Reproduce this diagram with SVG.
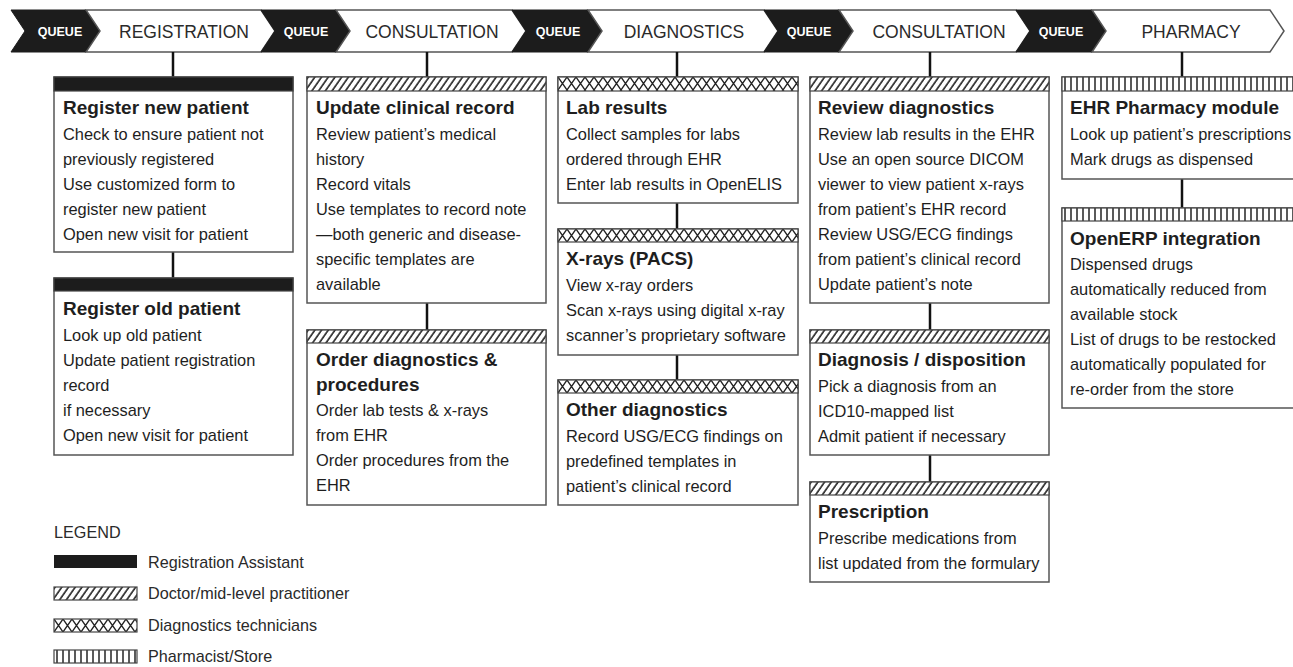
<svg xmlns="http://www.w3.org/2000/svg" width="1293" height="667" viewBox="0 0 1293 667">
<style>
.q{fill:#1c1c1c;stroke:#1c1c1c;stroke-width:1}
.st{fill:#fff;stroke:#555;stroke-width:1.5}
.qt{font-family:"Liberation Sans",Arial,sans-serif;font-weight:bold;font-size:12.5px;fill:#fff;text-anchor:middle}
.stt{font-family:"Liberation Sans",Arial,sans-serif;font-size:17.5px;fill:#2a2a2a;text-anchor:middle}
.box{fill:#fff;stroke:#555;stroke-width:1.5}
.hd{stroke:#444;stroke-width:1.2}
.t{font-family:"Liberation Sans",Arial,sans-serif;font-weight:bold;font-size:19px;fill:#1e1e1e}
.b{font-family:"Liberation Sans",Arial,sans-serif;font-size:16.4px;fill:#1e1e1e}
.lg{font-family:"Liberation Sans",Arial,sans-serif;font-size:16.2px;fill:#2a2a2a}
.c{stroke:#111;stroke-width:2.5;fill:none}
</style>
<defs>
<pattern id="hatch" patternUnits="userSpaceOnUse" width="5.5" height="20" patternTransform="rotate(35)">
<rect width="5.5" height="20" fill="#fff"/><line x1="1" y1="0" x2="1" y2="20" stroke="#222" stroke-width="1.6"/>
</pattern>
<pattern id="cross" patternUnits="userSpaceOnUse" width="9" height="13">
<rect width="9" height="13" fill="#fff"/><path d="M0,0 L9,13 M9,0 L0,13" stroke="#222" stroke-width="1.3" fill="none"/>
</pattern>
<pattern id="vert" patternUnits="userSpaceOnUse" width="6" height="13">
<rect width="6" height="13" fill="#fff"/><line x1="3" y1="0" x2="3" y2="13" stroke="#222" stroke-width="1.5"/>
</pattern>
</defs>
<rect width="1293" height="667" fill="#fff"/>

<g id="banner">
<polygon class="q" points="11,10 86,10 100,31 86,52 11,52 25,31"/>
<text class="qt" x="60" y="36">QUEUE</text>
<polygon class="st" points="86,10 261,10 275,31 261,52 86,52 100,31"/>
<text class="stt" x="184" y="37.5">REGISTRATION</text>
<polygon class="q" points="261,10 336,10 350,31 336,52 261,52 275,31"/>
<text class="qt" x="306" y="36">QUEUE</text>
<polygon class="st" points="336,10 512,10 526,31 512,52 336,52 350,31"/>
<text class="stt" x="432" y="37.5">CONSULTATION</text>
<polygon class="q" points="512,10 588,10 602,31 588,52 512,52 526,31"/>
<text class="qt" x="558" y="36">QUEUE</text>
<polygon class="st" points="588,10 764,10 778,31 764,52 588,52 602,31"/>
<text class="stt" x="684" y="37.5">DIAGNOSTICS</text>
<polygon class="q" points="764,10 839,10 853,31 839,52 764,52 778,31"/>
<text class="qt" x="809" y="36">QUEUE</text>
<polygon class="st" points="839,10 1016,10 1030,31 1016,52 839,52 853,31"/>
<text class="stt" x="939" y="37.5">CONSULTATION</text>
<polygon class="q" points="1016,10 1092,10 1106,31 1092,52 1016,52 1030,31"/>
<text class="qt" x="1061" y="36">QUEUE</text>
<polygon class="st" points="1092,10 1270,10 1284,31 1270,52 1092,52 1106,31"/>
<text class="stt" x="1191" y="37.5">PHARMACY</text>
</g>

<g id="connectors">
<line class="c" x1="173" y1="52" x2="173" y2="77"/>
<line class="c" x1="173" y1="252" x2="173" y2="278"/>
<line class="c" x1="427" y1="52" x2="427" y2="77"/>
<line class="c" x1="427" y1="303" x2="427" y2="330"/>
<line class="c" x1="677" y1="52" x2="677" y2="77"/>
<line class="c" x1="677" y1="203" x2="677" y2="229"/>
<line class="c" x1="677" y1="355" x2="677" y2="380"/>
<line class="c" x1="930" y1="52" x2="930" y2="77"/>
<line class="c" x1="930" y1="303" x2="930" y2="330"/>
<line class="c" x1="930" y1="455" x2="930" y2="482"/>
<line class="c" x1="1182" y1="52" x2="1182" y2="77"/>
<line class="c" x1="1182" y1="179" x2="1182" y2="208"/>
</g>

<g id="register-new" transform="translate(54,77)">
<rect class="box" width="239" height="175"/>
<rect class="hd" width="239" height="14" fill="#1c1c1c"/>
<text class="t" x="9" y="37">Register new patient</text>
<text class="b" x="9" y="63">Check to ensure patient not</text>
<text class="b" x="9" y="88">previously registered</text>
<text class="b" x="9" y="113">Use customized form to</text>
<text class="b" x="9" y="138">register new patient</text>
<text class="b" x="9" y="163">Open new visit for patient</text>
</g>

<g id="register-old" transform="translate(54,278)">
<rect class="box" width="239" height="177"/>
<rect class="hd" width="239" height="13" fill="#1c1c1c"/>
<text class="t" x="9" y="37">Register old patient</text>
<text class="b" x="9" y="63">Look up old patient</text>
<text class="b" x="9" y="88">Update patient registration</text>
<text class="b" x="9" y="113">record</text>
<text class="b" x="9" y="138">if necessary</text>
<text class="b" x="9" y="163">Open new visit for patient</text>
</g>

<g id="update-clinical" transform="translate(307,77)">
<rect class="box" width="239" height="226"/>
<rect class="hd" width="239" height="14" fill="url(#hatch)"/>
<text class="t" x="9" y="37">Update clinical record</text>
<text class="b" x="9" y="63">Review patient’s medical</text>
<text class="b" x="9" y="88">history</text>
<text class="b" x="9" y="113">Record vitals</text>
<text class="b" x="9" y="138">Use templates to record note</text>
<text class="b" x="9" y="163">—both generic and disease-</text>
<text class="b" x="9" y="188">specific templates are</text>
<text class="b" x="9" y="213">available</text>
</g>

<g id="order-diagnostics" transform="translate(307,330)">
<rect class="box" width="239" height="175"/>
<rect class="hd" width="239" height="13" fill="url(#hatch)"/>
<text class="t" x="9" y="36">Order diagnostics &amp;</text>
<text class="t" x="9" y="61">procedures</text>
<text class="b" x="9" y="86">Order lab tests &amp; x-rays</text>
<text class="b" x="9" y="111">from EHR</text>
<text class="b" x="9" y="136">Order procedures from the</text>
<text class="b" x="9" y="161">EHR</text>
</g>

<g id="lab-results" transform="translate(558,77)">
<rect class="box" width="240" height="126"/>
<rect class="hd" width="240" height="14" fill="url(#cross)"/>
<text class="t" x="8" y="37">Lab results</text>
<text class="b" x="8" y="63">Collect samples for labs</text>
<text class="b" x="8" y="88">ordered through EHR</text>
<text class="b" x="8" y="113">Enter lab results in OpenELIS</text>
</g>

<g id="xrays" transform="translate(558,229)">
<rect class="box" width="240" height="126"/>
<rect class="hd" width="240" height="13" fill="url(#cross)"/>
<text class="t" x="8" y="36">X-rays (PACS)</text>
<text class="b" x="8" y="62">View x-ray orders</text>
<text class="b" x="8" y="87">Scan x-rays using digital x-ray</text>
<text class="b" x="8" y="112">scanner’s proprietary software</text>
</g>

<g id="other-diagnostics" transform="translate(558,380)">
<rect class="box" width="240" height="125"/>
<rect class="hd" width="240" height="13" fill="url(#cross)"/>
<text class="t" x="8" y="36">Other diagnostics</text>
<text class="b" x="8" y="62">Record USG/ECG findings on</text>
<text class="b" x="8" y="87">predefined templates in</text>
<text class="b" x="8" y="112">patient’s clinical record</text>
</g>

<g id="review-diagnostics" transform="translate(810,77)">
<rect class="box" width="239" height="226"/>
<rect class="hd" width="239" height="14" fill="url(#hatch)"/>
<text class="t" x="8" y="37">Review diagnostics</text>
<text class="b" x="8" y="63">Review lab results in the EHR</text>
<text class="b" x="8" y="88">Use an open source DICOM</text>
<text class="b" x="8" y="113">viewer to view patient x-rays</text>
<text class="b" x="8" y="138">from patient’s EHR record</text>
<text class="b" x="8" y="163">Review USG/ECG findings</text>
<text class="b" x="8" y="188">from patient’s clinical record</text>
<text class="b" x="8" y="213">Update patient’s note</text>
</g>

<g id="diagnosis" transform="translate(810,330)">
<rect class="box" width="239" height="125"/>
<rect class="hd" width="239" height="13" fill="url(#hatch)"/>
<text class="t" x="8" y="36">Diagnosis / disposition</text>
<text class="b" x="8" y="62">Pick a diagnosis from an</text>
<text class="b" x="8" y="87">ICD10-mapped list</text>
<text class="b" x="8" y="112">Admit patient if necessary</text>
</g>

<g id="prescription" transform="translate(810,482)">
<rect class="box" width="239" height="100"/>
<rect class="hd" width="239" height="13" fill="url(#hatch)"/>
<text class="t" x="8" y="36">Prescription</text>
<text class="b" x="8" y="62">Prescribe medications from</text>
<text class="b" x="8" y="87">list updated from the formulary</text>
</g>

<g id="ehr-pharmacy" transform="translate(1062,77)">
<rect class="box" width="240" height="102"/>
<rect class="hd" width="240" height="14" fill="url(#vert)"/>
<text class="t" x="8" y="37">EHR Pharmacy module</text>
<text class="b" x="8" y="63">Look up patient’s prescriptions</text>
<text class="b" x="8" y="88">Mark drugs as dispensed</text>
</g>

<g id="openerp" transform="translate(1062,208)">
<rect class="box" width="240" height="200"/>
<rect class="hd" width="240" height="13" fill="url(#vert)"/>
<text class="t" x="8" y="37">OpenERP integration</text>
<text class="b" x="8" y="62">Dispensed drugs</text>
<text class="b" x="8" y="87">automatically reduced from</text>
<text class="b" x="8" y="112">available stock</text>
<text class="b" x="8" y="137">List of drugs to be restocked</text>
<text class="b" x="8" y="162">automatically populated for</text>
<text class="b" x="8" y="187">re-order from the store</text>
</g>

<g id="legend">
<text class="lg" x="54" y="538">LEGEND</text>
<rect x="54" y="555" width="83" height="13" fill="#1c1c1c"/>
<text class="lg" x="148" y="568">Registration Assistant</text>
<g transform="translate(54,587)"><rect class="hd" width="83" height="13" fill="url(#hatch)"/></g>
<text class="lg" x="148" y="599">Doctor/mid-level practitioner</text>
<g transform="translate(54,619)"><rect class="hd" width="83" height="13" fill="url(#cross)"/></g>
<text class="lg" x="148" y="631">Diagnostics technicians</text>
<g transform="translate(54,650)"><rect class="hd" width="83" height="13" fill="url(#vert)"/></g>
<text class="lg" x="148" y="662">Pharmacist/Store</text>
</g>
</svg>
